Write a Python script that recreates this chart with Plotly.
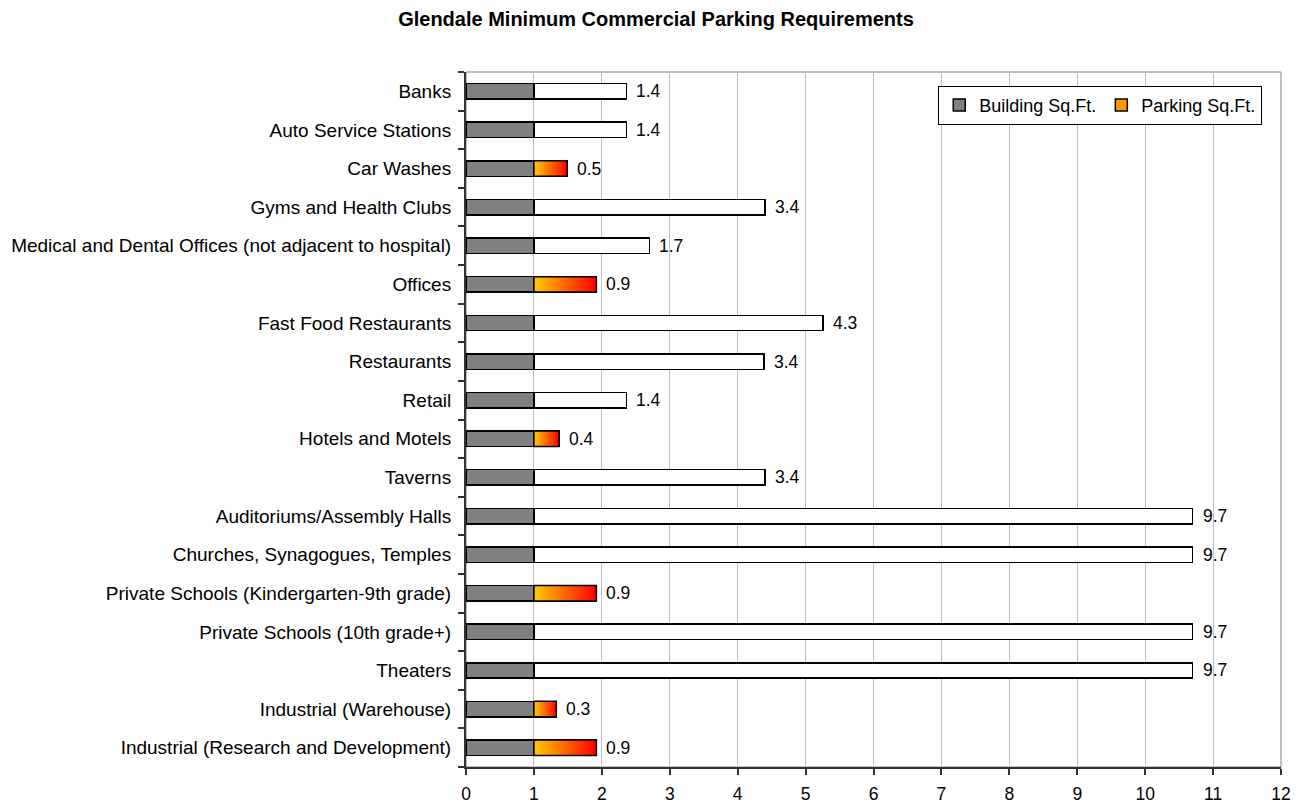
import plotly.graph_objects as go

categories = [
    "Banks", "Auto Service Stations", "Car Washes", "Gyms and Health Clubs",
    "Medical and Dental Offices (not adjacent to hospital)", "Offices",
    "Fast Food Restaurants", "Restaurants", "Retail", "Hotels and Motels",
    "Taverns", "Auditoriums/Assembly Halls", "Churches, Synagogues, Temples",
    "Private Schools (Kindergarten-9th grade)", "Private Schools (10th grade+)",
    "Theaters", "Industrial (Warehouse)", "Industrial (Research and Development)",
]
building = [1] * len(categories)
parking = [1.36, 1.36, 0.49, 3.40, 1.70, 0.92, 4.26, 3.39, 1.36, 0.37,
           3.40, 9.70, 9.70, 0.92, 9.70, 9.70, 0.33, 0.92]

FONT = "Liberation Sans, Arial, sans-serif"
GRAD = [[0, "#FFCC00"], [1, "#FF0000"]]
idx = list(range(len(categories)))
BW = 0.4

fig = go.Figure()
fig.add_trace(go.Bar(
    y=idx, x=building, orientation="h", width=BW, name="Building Sq.Ft.",
    marker=dict(color="#808080", line=dict(color="black", width=1.5)),
    showlegend=True,
))
park_colors = ["white" if v >= 1 else "#FF9900" for v in parking]
fig.add_trace(go.Bar(
    y=idx, x=parking, orientation="h", width=BW, name="Parking Sq.Ft.",
    marker=dict(color=park_colors, line=dict(color="black", width=1.5)),
    showlegend=False,
))
# legend-only entry for parking
fig.add_trace(go.Bar(
    y=[None], x=[None], orientation="h", name="Parking Sq.Ft.",
    marker=dict(color="#FF9900", line=dict(color="black", width=1.5)),
    showlegend=True,
))
# gradient overlays for parking bars smaller than building
for i, (b, v) in enumerate(zip(building, parking)):
    if v < 1:
        x0, x1 = b, b + v
        fig.add_trace(go.Scatter(
            x=[x0, x1, x1, x0, x0],
            y=[i - BW / 2, i - BW / 2, i + BW / 2, i + BW / 2, i - BW / 2],
            mode="lines", fill="toself",
            fillgradient=dict(type="horizontal", colorscale=GRAD),
            line=dict(color="black", width=1.5),
            showlegend=False, hoverinfo="skip",
        ))

for i, (b, v) in enumerate(zip(building, parking)):
    fig.add_annotation(
        x=b + v, y=i, text=f"{v:.1f}", showarrow=False, xanchor="left",
        yanchor="middle", xshift=8, font=dict(family=FONT, size=17.5, color="black"),
    )

fig.add_shape(type="rect", xref="paper", yref="paper", x0=0, x1=1, y0=0, y1=1,
              line=dict(color="#808080", width=1), layer="below")

fig.update_layout(
    width=1296, height=796,
    barmode="stack",
    plot_bgcolor="white", paper_bgcolor="white",
    margin=dict(l=458, r=23, t=64, b=37),
    title=dict(text="<b>Glendale Minimum Commercial Parking Requirements</b>",
               x=0.5, xanchor="center", y=1 - 11 / 796, yanchor="middle",
               font=dict(family=FONT, size=20, color="black")),
    font=dict(family=FONT, size=18, color="black"),
    legend=dict(orientation="h", x=0.977, xanchor="right", y=0.980, yanchor="top",
                bordercolor="black", borderwidth=1, bgcolor="white",
                font=dict(family=FONT, size=18), traceorder="normal",
                itemwidth=30, tracegroupgap=0),
    xaxis=dict(range=[0, 12], dtick=1, tick0=0, showgrid=True, gridcolor="#BFBFBF",
               gridwidth=1, showline=True, linecolor="#333333", linewidth=2,
               ticks="outside", ticklen=6, tickcolor="#333333", tickwidth=1.5,
               ticklabelstandoff=4, zeroline=False, automargin=False,
               tickfont=dict(family=FONT, size=17.5)),
    yaxis=dict(range=[17.5, -0.5], tickmode="array", tickvals=idx, ticktext=categories,
               showgrid=False, zeroline=False, showline=True, linecolor="#333333",
               linewidth=2, ticks="outside", ticklen=9, tickcolor="rgba(0,0,0,0)",
               automargin=False,
               minor=dict(tickvals=[k - 0.5 for k in range(len(categories) + 1)],
                          ticks="outside", ticklen=6, tickcolor="#333333", tickwidth=1.5,
                          showgrid=False),
               tickfont=dict(family=FONT, size=19)),
)

fig.write_html("out.html")
